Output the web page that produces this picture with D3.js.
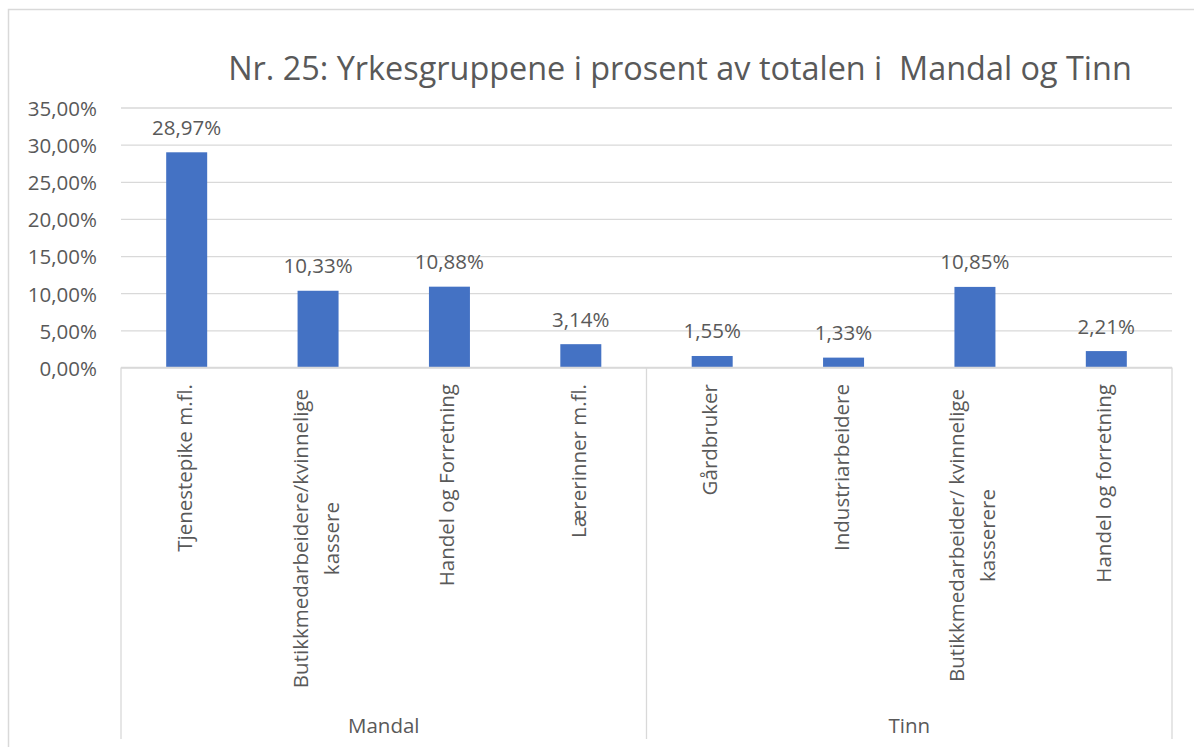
<!DOCTYPE html>
<html>
<head>
<meta charset="utf-8">
<script src="https://cdn.jsdelivr.net/npm/d3@7"></script>
<style>
  html, body { margin: 0; padding: 0; background: #fff; }
  svg { display: block; }
  text { font-family: "Open Sans", "Noto Sans", sans-serif; fill: #595959; }
</style>
</head>
<body>
<svg id="chart" width="1194" height="747"></svg>
<script>
// ---- data ----
const title = "Nr. 25: Yrkesgruppene i prosent av totalen i  Mandal og Tinn";
const groups = ["Mandal", "Tinn"];
const groupOf = [0, 0, 0, 0, 1, 1, 1, 1];
const categoryLines = [
  ["Tjenestepike m.fl."],
  ["Butikkmedarbeidere/kvinnelige", "kassere"],
  ["Handel og Forretning"],
  ["Lærerinner m.fl."],
  ["Gårdbruker"],
  ["Industriarbeidere"],
  ["Butikkmedarbeider/ kvinnelige", "kasserere"],
  ["Handel og forretning"]
];
const values = [0.2897, 0.1033, 0.1088, 0.0314, 0.0155, 0.0133, 0.1085, 0.0221];
const yTicks = [0, 0.05, 0.10, 0.15, 0.20, 0.25, 0.30, 0.35];

// ---- layout ----
const svg = d3.select("#chart");
const plot = { left: 121, right: 1172, top: 107.5, bottom: 367.5, catBottom: 739 };
const grid = "#D9D9D9";
const fmt = v => d3.format(".2f")(v * 100).replace(".", ",") + "%";

// chart border
svg.append("rect").attr("x", 8.5).attr("y", 9.5).attr("width", 1300).attr("height", 1000)
  .attr("fill", "none").attr("stroke", grid).attr("stroke-width", 1.5);

const idx = values.map((d, i) => i);
const x = d3.scaleBand().domain(idx).range([plot.left, plot.right])
  .paddingInner(0.688).paddingOuter(0.344);
const y = d3.scaleLinear().domain([0, 0.35]).range([plot.bottom, plot.top]);

// title
svg.append("text").attr("x", 680).attr("y", 80).attr("text-anchor", "middle")
  .attr("xml:space", "preserve").style("white-space", "pre")
  .style("font-size", "32.4px").text(title);

// y axis with gridlines
const yAxis = d3.axisLeft(y).tickValues(yTicks).tickFormat(fmt)
  .tickSize(-(plot.right - plot.left)).tickPadding(24);
const gy = svg.append("g").attr("transform", `translate(${plot.left},0)`).call(yAxis);
gy.select(".domain").remove();
gy.selectAll(".tick line").attr("stroke", grid).attr("stroke-width", 1.3);
gy.selectAll(".tick text").style("font-size", "20.5px").attr("fill", "#595959")
  .attr("dy", "0.38em").attr("font-family", null);

// bars
svg.append("g").selectAll("rect").data(values).join("rect")
  .attr("x", (d, i) => x(i)).attr("width", x.bandwidth())
  .attr("y", d => y(d)).attr("height", d => y(0) - y(d))
  .attr("fill", "#4472C4");

// data labels
svg.append("g").selectAll("text").data(values).join("text")
  .attr("x", (d, i) => x(i) + x.bandwidth() / 2)
  .attr("y", d => y(d) - 17.5)
  .attr("text-anchor", "middle").style("font-size", "20.5px")
  .text(fmt);

// category axis lines
svg.append("line").attr("x1", plot.left).attr("x2", plot.right)
  .attr("y1", plot.bottom).attr("y2", plot.bottom).attr("stroke", grid).attr("stroke-width", 1.3);
const groupBounds = [plot.left, (x(3) + x.bandwidth() + x(4)) / 2, plot.right];
svg.append("g").selectAll("line").data(groupBounds).join("line")
  .attr("x1", d => d).attr("x2", d => d)
  .attr("y1", plot.bottom).attr("y2", plot.catBottom)
  .attr("stroke", grid).attr("stroke-width", 1.3);

// category labels (rotated)
const lineGap = 31;
categoryLines.forEach((lines, i) => {
  const cx = x(i) + x.bandwidth() / 2;
  const n = lines.length;
  const g = svg.append("g");
  const texts = lines.map((t, j) => g.append("text")
    .style("font-size", "20.5px").attr("text-anchor", "middle").text(t));
  const maxLen = d3.max(texts, t => t.node().getComputedTextLength());
  const topY = n > 1 ? 389 : 384;
  const cy = topY + maxLen / 2;
  texts.forEach((t, j) => {
    const bx = cx + 5 + (j - (n - 1) / 2) * lineGap;
    t.attr("transform", `translate(${bx},${cy}) rotate(-90)`);
  });
});

// group labels
svg.append("g").selectAll("text").data(groups).join("text")
  .attr("x", (d, i) => (groupBounds[i] + groupBounds[i + 1]) / 2)
  .attr("y", 733).attr("text-anchor", "middle").style("font-size", "20.5px")
  .text(d => d);
</script>
</body>
</html>
